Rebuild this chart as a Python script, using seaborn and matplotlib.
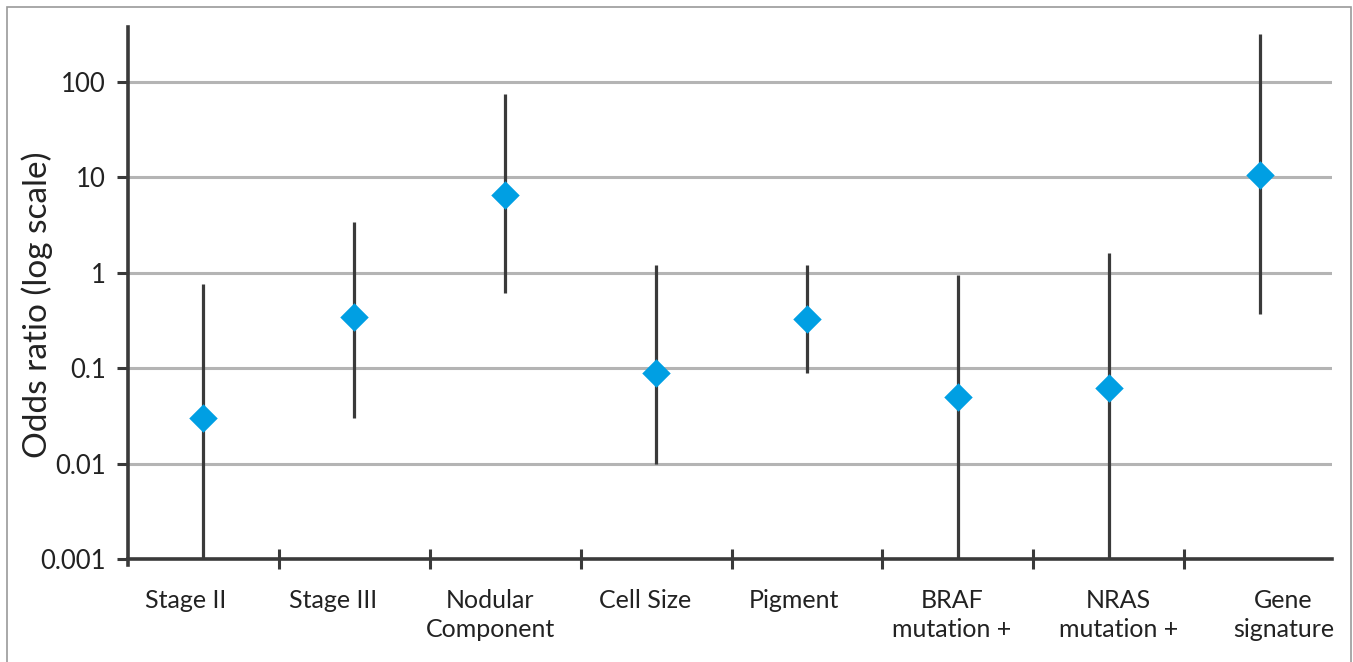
import matplotlib
matplotlib.use("Agg")
import matplotlib.pyplot as plt
import matplotlib.patches as mpatches
import matplotlib.transforms as mtransforms
import seaborn as sns
import pandas as pd
import numpy as np

# Odds ratios with lower/upper limits
factors = ["Stage II", "Stage III", "Nodular\nComponent", "Cell Size", "Pigment",
           "BRAF\nmutation +", "NRAS\nmutation +", "Gene\nsignature"]
odds_ratio = [0.03, 0.34, 6.6, 0.089, 0.33, 0.05, 0.062, 10.5]
ci_low = [0.001, 0.03, 0.62, 0.01, 0.09, 0.001, 0.001, 0.37]
ci_high = [0.77, 3.4, 75, 1.2, 1.2, 0.95, 1.6, 318]
ytick_vals = [0.001, 0.01, 0.1, 1, 10, 100]
ytick_labels = ["0.001", "0.01", "0.1", "1", "10", "100"]
# the category labels are not quite centred under their points in the original
label_shift_px = [-18, -21, -15, -11, -13, -6, 10, 24]

df = pd.DataFrame({"factor": factors, "odds": odds_ratio, "lo": ci_low, "hi": ci_high})

sns.set_style("white")
plt.rcParams["font.family"] = ["Lato", "DejaVu Sans"]

dark = "#3a3a3a"
txt = "#222222"
fig = plt.figure(figsize=(13.53, 6.62), dpi=100)
ax = fig.add_axes([0.0946, 0.1556, 0.8899, 0.8036])

# confidence interval lines
ax.vlines(np.arange(len(df)), df["lo"], df["hi"], color=dark, lw=2.3, zorder=2)

sns.stripplot(data=df, x="factor", y="odds", order=factors, jitter=False,
              marker="D", size=14.5, color="#009fe3", linewidth=0, zorder=3, ax=ax)

ax.set_yscale("log")
ax.set_ylim(0.001, 377)
ax.set_xlim(-0.5, len(factors) - 0.52)
ax.set_yticks(ytick_vals)
ax.set_yticklabels(ytick_labels)
ax.yaxis.set_minor_locator(matplotlib.ticker.NullLocator())
ax.yaxis.grid(True, color="#b4b4b4", lw=2.2, zorder=0)
ax.set_axisbelow(True)

# separators between categories on the x axis
ax.set_xticks(np.arange(len(factors)))
ax.set_xticklabels(factors, linespacing=1.3)
ax.set_xticks(np.arange(len(factors) - 1) + 0.5, minor=True)
ax.tick_params(axis="x", which="major", bottom=False, pad=18, labelsize=18, colors=txt)
ax.tick_params(axis="x", which="minor", bottom=True, length=14, width=2.2,
               direction="inout", color=dark)
ax.tick_params(axis="y", which="major", left=True, length=8, width=2.2, color=dark, pad=8,
               labelsize=18.5, labelcolor=txt)

dpi_scale = fig.dpi_scale_trans
for lab, dx in zip(ax.get_xticklabels(), label_shift_px):
    lab.set_transform(lab.get_transform() + mtransforms.ScaledTranslation(dx / 100, 0, dpi_scale))

ax.set_xlabel("")
ax.set_ylabel("Odds ratio (log scale)", fontsize=24, color=txt)
ax.yaxis.set_label_coords(-0.062, 0.477)

for side in ["top", "right"]:
    ax.spines[side].set_visible(False)
for side in ["left", "bottom"]:
    ax.spines[side].set_color(dark)
    ax.spines[side].set_linewidth(2.6)
ax.spines["left"].set_bounds(0.00087, 377)

# thin frame around the figure
fig.patches.append(mpatches.Rectangle((7 / 1353, -0.05), 1344 / 1353, 1.05 - 7 / 662,
                                      transform=fig.transFigure, fill=False,
                                      edgecolor="#9a9a9a", lw=1.2))

fig.savefig("out.png", dpi=100, facecolor="white")
